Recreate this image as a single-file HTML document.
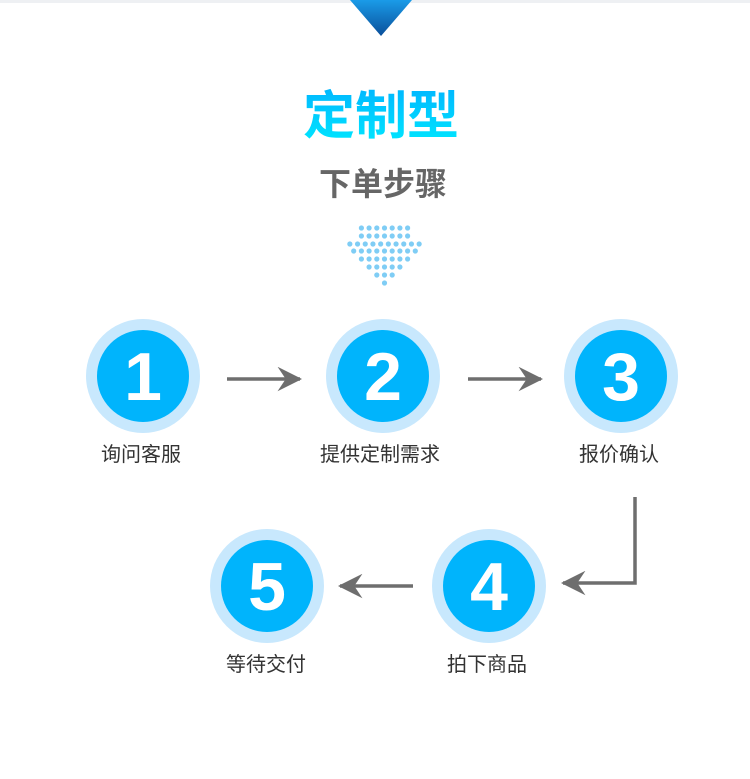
<!DOCTYPE html>
<html><head><meta charset="utf-8"><style>
body{margin:0;width:750px;height:779px;background:#fff;position:relative;overflow:hidden;font-family:"Liberation Sans","Noto Sans CJK SC",sans-serif}
.t{position:absolute;white-space:nowrap;transform:translateX(-50%)}
.l{font-size:20px;line-height:26px;color:#333}
</style></head><body>
<div style="position:absolute;left:0;top:0;width:750px;height:3px;background:#eef0f3"></div>
<svg width="750" height="779" style="position:absolute;left:0;top:0">
<defs>
<linearGradient id="tri" x1="0" y1="0" x2="0" y2="1"><stop offset="0" stop-color="#1a9be8"/><stop offset="1" stop-color="#0a4f9a"/></linearGradient>
<marker id="ah" viewBox="0 0 12 12" refX="11" refY="6" markerWidth="7" markerHeight="7" orient="auto"><path d="M0,0 L12,6 L0,12 L4,6 Z" fill="#6e6e6e"/></marker>
</defs>
<polygon points="350,0 412,0 381,36" fill="url(#tri)"/>
<g fill="#7fcdf5">
<g id="dots"></g>
</g>
<g stroke="#6e6e6e" stroke-width="3.5" fill="none">
<line x1="227" y1="379" x2="300" y2="379" marker-end="url(#ah)"/>
<line x1="468" y1="379" x2="541" y2="379" marker-end="url(#ah)"/>
<line x1="413" y1="586" x2="340" y2="586" marker-end="url(#ah)"/>
<polyline points="635,497 635,583 563,583" marker-end="url(#ah)"/>
</g>
<g>
<circle cx="143" cy="376" r="57" fill="#c8e8fd"/><circle cx="143" cy="376" r="46" fill="#00b4fc"/>
<circle cx="383" cy="376" r="57" fill="#c8e8fd"/><circle cx="383" cy="376" r="46" fill="#00b4fc"/>
<circle cx="621" cy="376" r="57" fill="#c8e8fd"/><circle cx="621" cy="376" r="46" fill="#00b4fc"/>
<circle cx="489" cy="586" r="57" fill="#c8e8fd"/><circle cx="489" cy="586" r="46" fill="#00b4fc"/>
<circle cx="267" cy="586" r="57" fill="#c8e8fd"/><circle cx="267" cy="586" r="46" fill="#00b4fc"/>
</g>
<g fill="#fff" font-family="Liberation Sans,sans-serif" font-weight="bold" font-size="68" text-anchor="middle">
<text x="143" y="400">1</text><text x="383" y="400">2</text><text x="621" y="400">3</text>
<text x="489" y="610">4</text><text x="267" y="610">5</text>
</g>
</svg>
<script>
var g=document.getElementById('dots'),rows=[[228,7],[236,7],[244,10],[251,9],[259,7],[267,5],[275,3],[283,1]],s='';
rows.forEach(function(r){var w=(r[1]-1)*7.7,x0=384.5-w/2;for(var i=0;i<r[1];i++)s+='<circle cx="'+(x0+i*7.7)+'" cy="'+r[0]+'" r="2.6"/>';});
g.innerHTML=s;
</script>
<div class="t" style="left:381px;top:86px;font-size:52px;font-weight:bold;line-height:62px;background:linear-gradient(#00b6ff,#00eaff);-webkit-background-clip:text;color:transparent">定制型</div>
<div class="t" style="left:383px;top:165px;font-size:32px;font-weight:bold;line-height:38px;color:#666">下单步骤</div>
<div class="t l" style="left:141px;top:442px">询问客服</div>
<div class="t l" style="left:380px;top:442px">提供定制需求</div>
<div class="t l" style="left:619px;top:442px">报价确认</div>
<div class="t l" style="left:487px;top:652px">拍下商品</div>
<div class="t l" style="left:266px;top:652px">等待交付</div>
</body></html>
